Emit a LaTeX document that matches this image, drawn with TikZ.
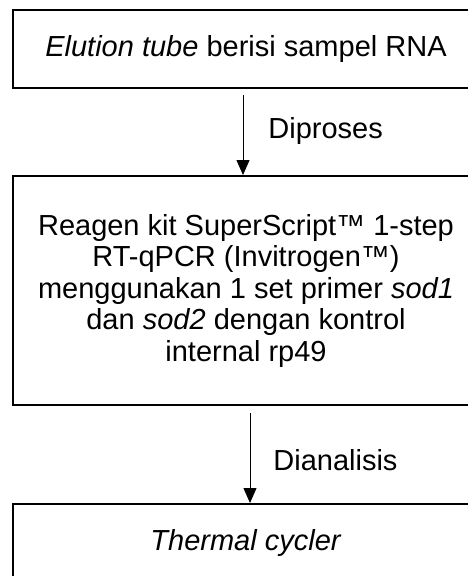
\documentclass[tikz,border=0pt]{standalone}
\usepackage{fontspec}
\setmainfont{Liberation Sans}
\usetikzlibrary{shapes,arrows.meta}

\begin{document}
\begin{tikzpicture}[>={Triangle[length=15pt,width=13pt]},
    kotak/.style={draw, line width=2pt, minimum width=466pt, inner sep=0pt, align=center,
        font=\fontsize{29pt}{31.5pt}\selectfont},
    ket/.style={right, inner sep=0pt, font=\fontsize{29pt}{31.5pt}\selectfont}]
        \useasboundingbox (0,0) rectangle (468pt,-576pt);
        \node[kotak, minimum height=78pt] (tube) at (246pt,-49pt) {\textit{Elution tube} berisi sampel RNA};
        \node[kotak, minimum height=229pt] (kit) at (246pt,-290.5pt) {Reagen kit SuperScript™ 1-step\\RT-qPCR (Invitrogen™)\\menggunakan 1 set primer \textit{sod1}\\dan \textit{sod2} dengan kontrol\\internal rp49};
        \node[kotak, minimum height=78pt] (cycler) at (246pt,-543pt) {\textit{Thermal cycler}};
        \coordinate (p1) at (243pt,-95pt);
        \coordinate (p2) at (250pt,-413pt);
        \draw[->, line width=0.8pt] (p1) -- (p1 |- kit.north) node[ket, midway, xshift=25pt, yshift=4pt] (proses) {Diproses};
        \draw[->, line width=0.8pt] (p2) -- (p2 |- cycler.north) node[ket, midway, xshift=23pt, yshift=-2pt] (analisis) {Dianalisis};
    \end{tikzpicture}
\end{document}
